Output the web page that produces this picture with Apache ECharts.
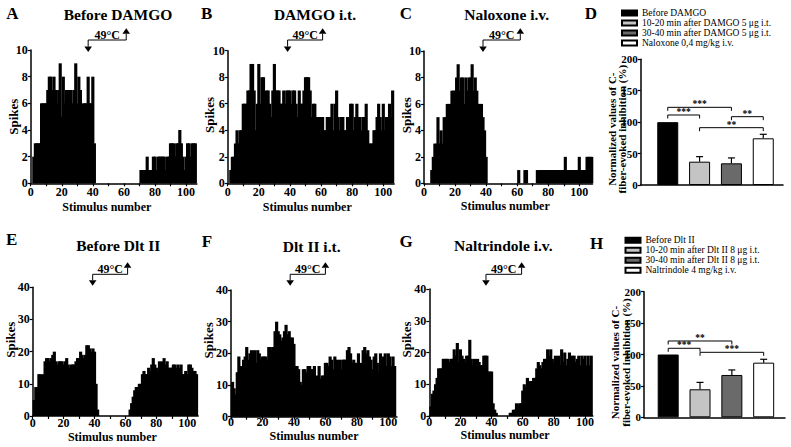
<!DOCTYPE html>
<html><head><meta charset="utf-8">
<script src="https://cdn.jsdelivr.net/npm/echarts@6/dist/echarts.min.js"></script>
<style>html,body{margin:0;padding:0;background:#fff}#c{width:791px;height:447px}</style>
</head><body><div id="c"></div>
<script>
const FONT = "'Liberation Serif','Times New Roman',serif";

// ---------- DATA ----------
// spikes per stimulus (stimulus number = position + 1)
const spikesA = [0,2,3,3,3,3,6,6,6,6, 7,8,8,7,8,7,6,7,9,5, 8,6,7,7,7,7,6,7,9,6, 8,7,5,6,6,6,8,6,6,8,
  3,0,0,0,0,0,0,0,0,0, 0,0,0,0,0,0,0,0,0,0, 0,0,0,0,0,0,0,0,0,0,
  1,1,1,1,2,1,1,1,2,2, 1,2,2,2,2,2,1,2,2,3, 3,3,2,3,3,4,3,2,1,2, 3,3,2,3,3,3];
const spikesB = [0,1,2,2,3,4,3,4,4,6, 6,6,7,7,9,9,7,4,6,9, 6,8,8,5,7,7,6,5,7,9, 7,7,7,6,6,7,6,7,7,7,
  6,7,7,6,5,7,6,6,7,8, 8,8,7,5,6,6,5,4,5,5, 5,4,4,5,5,5,6,4,6,7,
  5,4,5,5,4,4,5,5,6,6, 4,5,6,5,5,4,5,5,6,4, 3,3,3,4,4,5,6,5,4,6, 4,5,5,6,5,7];
const spikesC = [0,0,0,0,1,2,3,3,5,3, 4,3,5,5,6,6,6,7,7,7, 8,9,7,8,8,6,8,7,8,8, 9,7,8,7,6,6,6,5,4,2,
  0,0,0,0,0,0,0,0,0,0, 0,0,0,0,0,0,0,0,0,0, 1,0,0,0,1,1,0,0,0,0,
  0,0,1,1,1,1,1,1,1,1, 1,1,1,1,1,1,1,1,1,1, 2,1,1,1,1,1,1,1,1,2, 1,1,1,1,2,2,2,2];
const spikesE = [5,9,9,13,13,12,13,17,18,18, 17,18,19,20,17,16,17,17,17,16, 17,18,16,15,16,16,16,17,18,18,
  20,19,18,19,22,22,21,20,21,20, 10,2,0,0,0,0,0,0,0,0, 0,0,0,0,0,0,0,0,0,0,
  0,0,2,4,6,8,9,9,10,10, 13,14,13,13,15,14,16,18,16,15, 14,17,14,17,18,16,17,15,15,15,
  16,16,15,16,15,16,13,13,14,13, 16,16,15,14,14,13];
const spikesF = [11,9,7,14,19,16,15,18,19,22, 18,20,21,19,21,17,21,20,18,19, 19,19,18,22,22,21,22,27,30,27,
  26,24,25,27,29,26,27,25,25,23, 16,16,15,11,10,15,15,14,16,16, 15,15,16,12,13,16,12,13,13,17,
  17,16,19,18,15,19,18,17,18,15, 18,18,18,21,22,20,17,18,17,17, 20,16,17,21,22,20,21,19,18,15,
  19,20,17,14,20,18,19,20,16,20, 19,16,19,16];
const spikesG = [3,7,8,10,12,15,15,15,18,18, 18,18,17,18,18,21,19,23,17,21, 19,18,17,19,19,24,18,16,18,16,
  18,17,16,16,19,19,19,14,14,14, 4,2,1,0,0,0,0,0,0,0, 0,1,1,2,2,4,2,4,4,8,
  10,9,12,10,11,11,12,12,15,17, 16,15,17,18,18,21,19,21,18,17, 19,17,19,16,21,17,20,16,18,20,
  17,19,19,17,18,19,16,19,18,19, 16,19,16,19];

const histTitles = ['Before DAMGO', 'DAMGO i.t.', 'Naloxone i.v.', 'Before Dlt II', 'Dlt II i.t.', 'Naltrindole i.v.'];
const histLetters = ['A', 'B', 'C', 'E', 'F', 'G'];
const heatOn  = [37, 38.5, 38, 38.8, 37.6, 36.4];   // 49°C start (stimulus number)
const heatOff = [61.5, 61, 62, 61.4, 60, 59.3];     // 49°C end
const xTickLabels = [0, 20, 40, 60, 80, 100];
const xTickMarks = [0, 10, 20, 30, 40, 50, 60, 70, 80, 90, 100];

const groupsD = ['Before DAMGO', '10-20 min after DAMGO 5 μg i.t.', '30-40 min after DAMGO 5 μg i.t.', 'Naloxone 0,4 mg/kg i.v.'];
const meanD = [100, 37.1, 34.5, 74.3];
const semD  = [0, 8, 8.6, 6.4];
const bracketsD = [[1, 3, 123.6], [1, 2, 111.4], [3, 4, 108.7], [2, 4, 91.2]];
const bracketTextD = ['***', '***', '**', '**'];

const groupsH = ['Before Dlt II', '10-20 min after Dlt II 8 μg i.t.', '30-40 min after Dlt II 8 μg i.t.', 'Naltrindole 4 mg/kg i.v.'];
const meanH = [100, 44.6, 67.4, 87];
const semH  = [0, 11, 8, 5.4];
const bracketsH = [[1, 3, 121.5], [1, 2, 109.9], [2, 4, 103.5]];
const bracketTextH = ['**', '***', '***'];

const barColors = ['#000000', '#c4c4c4', '#6a6a6a', '#ffffff'];

// ---------- LAYOUT ----------
const histData = [spikesA, spikesB, spikesC, spikesE, spikesF, spikesG];
const histLayout = [
  {left: 30.7, top: 50, width: 166.2, height: 133.3, xMax: 107, yMax: 10, yInt: 2, row: 0, nameGap: 18.3, lblM: 4.5, nShift: -7, sGap: 10.4, sShift: 0, tx: 118, ty: 14, lx: 12.5, ly: 13.7},
  {left: 227.7, top: 50.7, width: 166.5, height: 132.6, xMax: 107, yMax: 10, yInt: 2, row: 0, nameGap: 18.3, lblM: 4.5, nShift: -3.7, sGap: 11.5, sShift: 2, tx: 315, ty: 14, lx: 206.7, ly: 13.7},
  {left: 424, top: 51, width: 168.5, height: 132.3, xMax: 108.5, yMax: 10, yInt: 2, row: 0, nameGap: 18, lblM: 4.5, nShift: -3, sGap: 10.5, sShift: 2, tx: 506.7, ty: 14, lx: 406, ly: 13.7},
  {left: 32.7, top: 287.3, width: 165.4, height: 128.7, xMax: 107, yMax: 40, yInt: 10, row: 1, nameGap: 15.5, lblM: 2.5, nShift: -3, sGap: 15.2, sShift: 12, tx: 118.3, ty: 245, lx: 11.7, ly: 239},
  {left: 231, top: 290, width: 166, height: 126.7, xMax: 105.5, yMax: 40, yInt: 10, row: 1, nameGap: 13.8, lblM: 0.8, nShift: 0, sGap: 15.3, sShift: 13, tx: 311.7, ty: 246.5, lx: 207, ly: 241.5},
  {left: 429.3, top: 289, width: 163.5, height: 127, xMax: 105, yMax: 40, yInt: 10, row: 1, nameGap: 14, lblM: 1, nShift: -6, sGap: 15.6, sShift: 13, tx: 503.3, ty: 245, lx: 406, ly: 241.5}
];
const barLayout = [
  {left: 640.7, top: 59.3, width: 142.3, height: 125.7, xMin: 0.15, xMax: 4.62, legLeft: 621, legTop: 8, nPad: 14, lx: 591, ly: 13.3, letter: 'D'},
  {left: 644, top: 291.7, width: 141, height: 125.6, xMin: 0.24, xMax: 4.67, legLeft: 624.5, legTop: 235.3, nPad: 16, lx: 596.7, ly: 243, letter: 'H'}
];
const barGroups = [groupsD, groupsH];
const barMeans = [meanD, meanH];
const barSem = [semD, semH];
const barBrackets = [bracketsD, bracketsH];
const barBracketText = [bracketTextD, bracketTextH];

const axisLineStyle = {lineStyle: {color: '#000', width: 1.5}};
const tickStyle = {show: true, length: 3, lineStyle: {color: '#000', width: 1.2}};
const histLabelFont = {color: '#000', fontFamily: FONT, fontWeight: 'bold', fontSize: 12, lineHeight: 9};
const barLabelFont = {color: '#000', fontFamily: FONT, fontWeight: 'bold', fontSize: 11, lineHeight: 9};

const grids = [], xAxes = [], yAxes = [], series = [], graphics = [], legends = [];

function histBarRender(params, api) {
  const i = api.value(0), v = api.value(1);
  if (!v) return null;
  const p0 = api.coord([i - 0.5, v]);
  const p1 = api.coord([i + 0.5, 0]);
  return {type: 'rect', shape: {x: p0[0] - 0.8, y: p0[1], width: p1[0] - p0[0] + 1.6, height: p1[1] - p0[1]},
    style: {fill: '#000', stroke: null}};
}

function heatRender(row) {
  return function (params, api) {
    const x1 = api.coord([api.value(0), 0])[0];
    const x2 = api.coord([api.value(1), 0])[0];
    const Y = row === 0 ? {line: 40, down: 52, up: 28.3} : {line: 274.3, down: 285.7, up: 262.3};
    const h = 5.4, w = 3.8;
    return {type: 'group', children: [
      {type: 'polyline', shape: {points: [[x1, Y.down - h], [x1, Y.line], [x2, Y.line], [x2, Y.up + h]]}, style: {stroke: '#000', fill: null, lineWidth: 1}},
      {type: 'polygon', shape: {points: [[x1 - w, Y.down - h], [x1 + w, Y.down - h], [x1, Y.down]]}, style: {fill: '#000'}},
      {type: 'polygon', shape: {points: [[x2 - w, Y.up + h], [x2 + w, Y.up + h], [x2, Y.up]]}, style: {fill: '#000'}},
      {type: 'text', style: {text: '49°C', x: (x1 + x2) / 2, y: Y.line + 0.5, align: 'center', verticalAlign: 'bottom', font: 'bold 12px ' + FONT, fill: '#000'}}
    ]};
  };
}

histLayout.forEach((L, k) => {
  grids.push({left: L.left, top: L.top, width: L.width, height: L.height, containLabel: false, outerBoundsMode: 'none'});
  xAxes.push({
    type: 'value', gridIndex: k, min: 0, max: L.xMax, interval: 20,
    name: 'Stimulus number', nameLocation: 'middle', nameGap: L.nameGap, nameMoveOverlap: false,
    nameTextStyle: {color: '#000', fontFamily: FONT, fontWeight: 'bold', fontSize: 12, lineHeight: 10, padding: [0, -2 * L.nShift, 0, 0]},
    axisLine: axisLineStyle, axisTick: Object.assign({customValues: xTickMarks}, tickStyle),
    axisLabel: Object.assign({customValues: xTickLabels, margin: L.lblM,
      formatter: v => (v % 20 === 0 && v <= 100 ? String(v) : '')}, histLabelFont),
    splitLine: {show: false}
  });
  yAxes.push({
    type: 'value', gridIndex: k, min: 0, max: L.yMax, interval: L.yInt,
    name: 'Spikes', nameLocation: 'middle', nameGap: L.sGap, nameRotate: 90, nameMoveOverlap: false,
    nameTextStyle: {color: '#000', fontFamily: FONT, fontWeight: 'bold', fontSize: 13, lineHeight: 14, padding: [0, 0, 0, 2 * L.sShift]},
    axisLine: Object.assign({show: true}, axisLineStyle), axisTick: tickStyle,
    axisLabel: Object.assign({margin: 3}, histLabelFont), splitLine: {show: false}
  });
  series.push({
    type: 'custom', xAxisIndex: k, yAxisIndex: k, silent: true,
    renderItem: histBarRender,
    data: histData[k].map((v, i) => [i + 1, v])
  });
  series.push({
    type: 'custom', xAxisIndex: k, yAxisIndex: k, clip: false, silent: true, z: 5,
    renderItem: heatRender(L.row), data: [[heatOn[k], heatOff[k]]]
  });
  graphics.push({type: 'text', x: L.tx, y: L.ty, style: {text: histTitles[k], font: 'bold 15.5px ' + FONT, fill: '#000', align: 'center', verticalAlign: 'middle'}});
  graphics.push({type: 'text', x: L.lx, y: L.ly, style: {text: histLetters[k], font: 'bold 17px ' + FONT, fill: '#000', align: 'center', verticalAlign: 'middle'}});
});

function errRender(params, api) {
  const x = api.value(0), m = api.value(1), s = api.value(2);
  if (!s) return null;
  const p0 = api.coord([x, m]), p1 = api.coord([x, m + s]);
  return {type: 'group', children: [
    {type: 'line', shape: {x1: p0[0], y1: p0[1], x2: p1[0], y2: p1[1]}, style: {stroke: '#000', lineWidth: 1.2}},
    {type: 'line', shape: {x1: p1[0] - 3.5, y1: p1[1], x2: p1[0] + 3.5, y2: p1[1]}, style: {stroke: '#000', lineWidth: 1.2}}
  ]};
}
function bracketRender(labels) {
  return function (params, api) {
    const a = api.coord([api.value(0), api.value(2)]);
    const b = api.coord([api.value(1), api.value(2)]);
    const leg = 3.5;
    return {type: 'group', children: [
      {type: 'polyline', shape: {points: [[a[0], a[1] + leg], [a[0], a[1]], [b[0], b[1]], [b[0], b[1] + leg]]}, style: {stroke: '#000', fill: null, lineWidth: 1}},
      {type: 'text', style: {text: labels[params.dataIndex], x: (a[0] + b[0]) / 2, y: a[1] + 2, align: 'center', verticalAlign: 'bottom', font: 'bold 9.5px ' + FONT, fill: '#000'}}
    ]};
  };
}

barLayout.forEach((L, j) => {
  const gi = histLayout.length + j;
  grids.push({left: L.left, top: L.top, width: L.width, height: L.height, containLabel: false, outerBoundsMode: 'none'});
  xAxes.push({type: 'value', gridIndex: gi, min: L.xMin, max: L.xMax,
    axisLine: axisLineStyle, axisTick: {show: false}, axisLabel: {show: false}, splitLine: {show: false}});
  yAxes.push({
    type: 'value', gridIndex: gi, min: 0, max: 200, interval: 50,
    name: 'Normalized values of C-\nfiber-evoked inhibition (%)', nameLocation: 'middle', nameGap: 13, nameRotate: 90, nameMoveOverlap: false,
    nameTextStyle: {color: '#000', fontFamily: FONT, fontWeight: 'bold', fontSize: 11, lineHeight: 10.6, padding: [0, L.nPad, 0, 0]},
    axisLine: Object.assign({show: true}, axisLineStyle), axisTick: tickStyle,
    axisLabel: Object.assign({margin: 3}, barLabelFont), splitLine: {show: false}
  });
  barGroups[j].forEach((name, c) => {
    series.push({
      type: 'bar', name: name, xAxisIndex: gi, yAxisIndex: gi, barWidth: 21, barGap: '-100%', silent: true,
      itemStyle: {color: barColors[c], borderColor: '#000', borderWidth: 1},
      data: [[c + 1, barMeans[j][c]]]
    });
  });
  series.push({type: 'custom', xAxisIndex: gi, yAxisIndex: gi, clip: false, silent: true, z: 5,
    renderItem: errRender, data: barMeans[j].map((m, c) => [c + 1, m, barSem[j][c]])});
  series.push({type: 'custom', xAxisIndex: gi, yAxisIndex: gi, clip: false, silent: true, z: 5,
    renderItem: bracketRender(barBracketText[j]), data: barBrackets[j]});
  legends.push({
    data: barGroups[j], orient: 'vertical', left: L.legLeft, top: L.legTop, itemWidth: 15, itemHeight: 5, itemGap: 0,
    icon: 'rect', selectedMode: false, padding: 0,
    textStyle: {color: '#000', fontFamily: FONT, fontSize: 9.5, lineHeight: 9.5}
  });
  graphics.push({type: 'text', x: L.lx, y: L.ly, style: {text: L.letter, font: 'bold 17px ' + FONT, fill: '#000', align: 'center', verticalAlign: 'middle'}});
});

const chart = echarts.init(document.getElementById('c'), null, {renderer: 'svg'});
chart.setOption({
  animation: false,
  backgroundColor: '#fff',
  grid: grids, xAxis: xAxes, yAxis: yAxes, series: series,
  legend: legends, graphic: graphics
});
</script></body></html>
